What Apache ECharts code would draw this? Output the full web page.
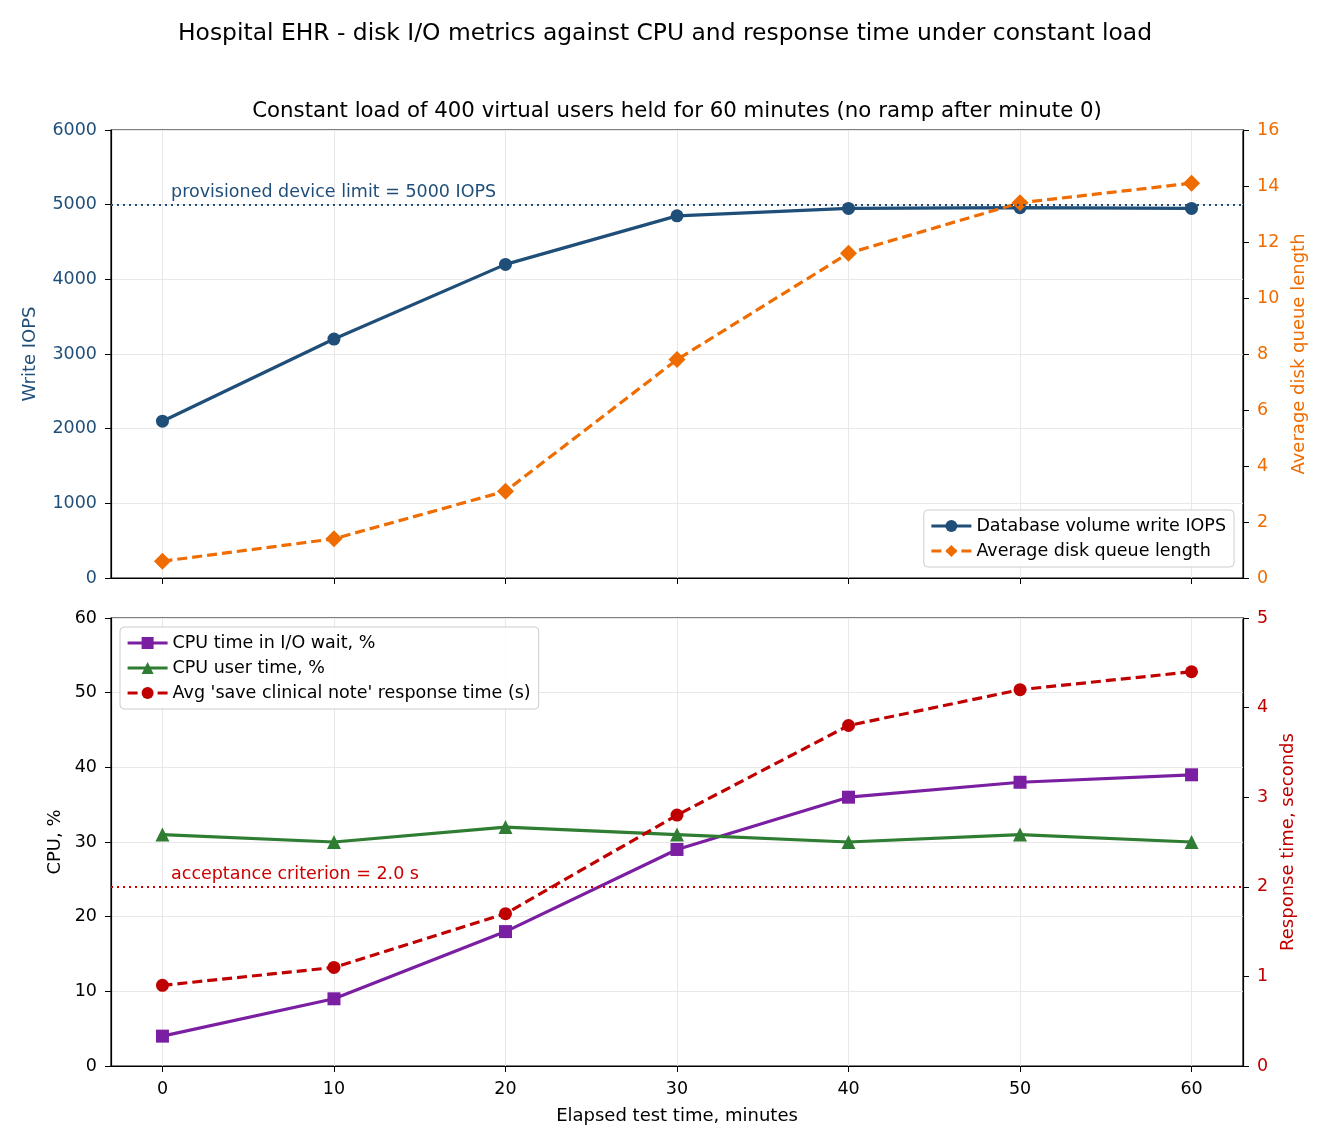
<!DOCTYPE html>
<html><head><meta charset="utf-8">
<script src="https://cdn.jsdelivr.net/npm/echarts@6/dist/echarts.min.js"></script>
<style>html,body{margin:0;padding:0;background:#fff}#c{width:1330px;height:1148px}</style>
</head><body><div id="c"></div>
<script>
const minutes = [0, 10, 20, 30, 40, 50, 60];
const writeIops = [2100, 3200, 4200, 4850, 4950, 4960, 4950];
const queueLength = [0.6, 1.4, 3.1, 7.8, 11.6, 13.4, 14.1];
const ioWait = [4, 9, 18, 29, 36, 38, 39];
const userTime = [31, 30, 32, 31, 30, 31, 30];
const responseTime = [0.9, 1.1, 1.7, 2.8, 3.8, 4.2, 4.4];
const xTicks = [0, 10, 20, 30, 40, 50, 60];
const iopsLimit = 5000;
const acceptance = 2.0;

const F = 'DejaVu Sans';
const TICK = 17.5, LAB = 18;
const LW = 3.2, DASH = [10, 5];
const C_IOPS = '#1f4e79', C_Q = '#ef6c00', C_IO = '#7b1fa2', C_USR = '#2e7d32', C_RT = '#c00000';
const pair = (xs, ys) => xs.map((x, i) => [x, ys[i]]);

const chart = echarts.init(document.getElementById('c'), null, {renderer: 'canvas'});
const gridLine = {show: true, lineStyle: {color: '#e8e8e8', width: 1}};
function xAxis(gi, showLabels) {
  return {
    type: 'value', gridIndex: gi, min: -3, max: 63,
    axisLine: {show: true, onZero: false, lineStyle: {color: '#000', width: 1.2}},
    axisTick: {show: true, customValues: xTicks, length: 6, lineStyle: {color: '#000'}},
    axisLabel: {show: showLabels, customValues: xTicks, color: '#000', fontFamily: F, fontSize: TICK, margin: 14},
    splitLine: gridLine,
    name: showLabels ? 'Elapsed test time, minutes' : '', nameLocation: 'middle', nameGap: 41,
    nameTextStyle: {color: '#000', fontFamily: F, fontSize: LAB}
  };
}
function yAxis(gi, pos, min, max, interval, color, name, nameGap, split) {
  return {
    type: 'value', gridIndex: gi, position: pos, min, max, interval,
    axisLine: {show: true, onZero: false, lineStyle: {color: '#000', width: 1.2}},
    axisTick: {show: true, length: 6, lineStyle: {color: '#000'}},
    axisLabel: {color, fontFamily: F, fontSize: TICK, margin: 14, formatter: v => String(v)},
    splitLine: split ? gridLine : {show: false},
    name, nameLocation: 'middle', nameGap, nameRotate: 90,
    nameTextStyle: {color, fontFamily: F, fontSize: LAB}
  };
}
const legendCommon = {
  orient: 'vertical', backgroundColor: 'rgba(255,255,255,0.85)', borderColor: '#cccccc', borderWidth: 1, borderRadius: 4,
  padding: [7, 8, 7, 6], itemWidth: 40, itemHeight: 15, itemGap: 7,
  lineStyle: {width: LW},
  textStyle: {fontFamily: F, fontSize: TICK, color: '#000'}
};
chart.setOption({
  animation: false,
  textStyle: {fontFamily: F},
  title: [
    {text: 'Hospital EHR - disk I/O metrics against CPU and response time under constant load', left: 'center', top: 22, padding: 0,
     textStyle: {fontFamily: F, fontSize: 23.4, fontWeight: 'normal', color: '#000'}},
    {text: 'Constant load of 400 virtual users held for 60 minutes (no ramp after minute 0)', left: 677, textAlign: 'center', top: 101, padding: 0,
     textStyle: {fontFamily: F, fontSize: 21.3, fontWeight: 'normal', color: '#000'}}
  ],
  grid: [
    {left: 111, top: 130, width: 1132, height: 448, show: true, borderColor: '#000', borderWidth: 1.2, backgroundColor: 'transparent'},
    {left: 111, top: 618, width: 1132, height: 448, show: true, borderColor: '#000', borderWidth: 1.2, backgroundColor: 'transparent'}
  ],
  xAxis: [xAxis(0, false), xAxis(1, true)],
  yAxis: [
    yAxis(0, 'left', 0, 6000, 1000, C_IOPS, 'Write IOPS', 72, true),
    yAxis(0, 'right', 0, 16, 2, C_Q, 'Average disk queue length', 45, false),
    yAxis(1, 'left', 0, 60, 10, '#000', 'CPU, %', 47, true),
    yAxis(1, 'right', 0, 5, 1, C_RT, 'Response time, seconds', 34, false)
  ],
  legend: [
    Object.assign({}, legendCommon, {right: 96, top: 510, data: ['Database volume write IOPS', 'Average disk queue length']}),
    Object.assign({}, legendCommon, {left: 120, top: 627, data: ['CPU time in I/O wait, %', 'CPU user time, %', "Avg 'save clinical note' response time (s)"]})
  ],
  series: [
    {name: 'Database volume write IOPS', type: 'line', xAxisIndex: 0, yAxisIndex: 0, data: pair(minutes, writeIops),
     symbol: 'circle', symbolSize: 13, lineStyle: {color: C_IOPS, width: LW}, itemStyle: {color: C_IOPS}, z: 3,
     markLine: {silent: true, symbol: 'none', label: {show: false}, lineStyle: {color: C_IOPS, type: [2, 4], width: 2.2},
       data: [{yAxis: iopsLimit}]}},
    {name: 'Average disk queue length', type: 'line', xAxisIndex: 0, yAxisIndex: 1, data: pair(minutes, queueLength),
     symbol: 'diamond', symbolSize: 17, lineStyle: {color: C_Q, width: LW, type: DASH}, itemStyle: {color: C_Q}, z: 3},
    {name: 'limitLabel', type: 'scatter', xAxisIndex: 0, yAxisIndex: 0, data: [[0.5, iopsLimit]], symbolSize: 0, silent: true,
     itemStyle: {opacity: 1},
     label: {show: true, position: 'right', distance: 0, offset: [0, -12], formatter: 'provisioned device limit = 5000 IOPS',
       color: C_IOPS, opacity: 1, fontFamily: F, fontSize: TICK}},
    {name: 'CPU time in I/O wait, %', type: 'line', xAxisIndex: 1, yAxisIndex: 2, data: pair(minutes, ioWait),
     symbol: 'rect', symbolSize: 13, lineStyle: {color: C_IO, width: LW}, itemStyle: {color: C_IO}, z: 3},
    {name: 'CPU user time, %', type: 'line', xAxisIndex: 1, yAxisIndex: 2, data: pair(minutes, userTime),
     symbol: 'triangle', symbolSize: 14, lineStyle: {color: C_USR, width: LW}, itemStyle: {color: C_USR}, z: 3},
    {name: "Avg 'save clinical note' response time (s)", type: 'line', xAxisIndex: 1, yAxisIndex: 3, data: pair(minutes, responseTime),
     symbol: 'circle', symbolSize: 13, lineStyle: {color: C_RT, width: LW, type: DASH}, itemStyle: {color: C_RT}, z: 3,
     markLine: {silent: true, symbol: 'none', label: {show: false}, lineStyle: {color: '#d00000', type: [2, 4], width: 2.2},
       data: [{yAxis: acceptance}]}},
    {name: 'accLabel', type: 'scatter', xAxisIndex: 1, yAxisIndex: 3, data: [[0.5, acceptance]], symbolSize: 0, silent: true,
     itemStyle: {opacity: 1},
     label: {show: true, position: 'right', distance: 0, offset: [0, -12], formatter: 'acceptance criterion = 2.0 s',
       color: '#cc0000', opacity: 1, fontFamily: F, fontSize: TICK}}
  ]
});
</script></body></html>
